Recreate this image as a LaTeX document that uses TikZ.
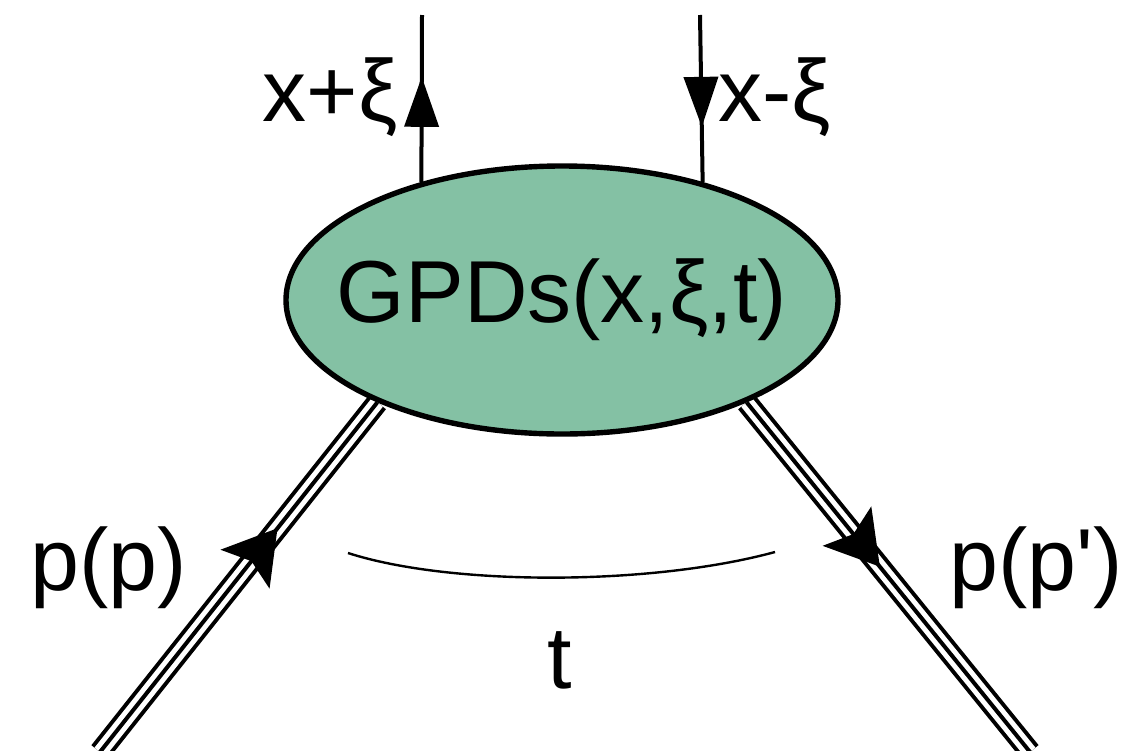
\documentclass[tikz,border=0pt]{standalone}
\usepackage{fontspec}
\setmainfont{Liberation Sans}
\usetikzlibrary{shapes.geometric, arrows.meta, decorations.markings, backgrounds}
\definecolor{gpdgreen}{RGB}{132,193,164}

\begin{document}
\begin{tikzpicture}[
    x=0.5pt, y=-0.5pt,
    font=\fontsize{44}{52}\selectfont,
    blob/.style={ellipse, draw, line width=2.7pt, fill=gpdgreen,
      minimum width=276pt, minimum height=134pt, inner sep=0pt},
    quark/.style={line width=2pt},
    proton/.style={line width=2pt,
      preaction={draw, line width=11pt},
      preaction={draw, white, line width=7pt}},
    qarr/.style={postaction={decorate, decoration={markings,
      mark=at position #1 with {\arrow{Triangle[length=25pt, width=17pt]}}}}},
    parr/.style={postaction={decorate, decoration={markings,
      mark=at position #1 with {\arrow{Stealth[length=26pt, width=31pt, inset=5pt]}}}}}]
    \useasboundingbox (0,0) rectangle (1123,750);
    \node[blob] (gpd) at (562,300) {};
    \node (lgpd) at (gpd.center) {GPDs(x,ξ,t)};
    % free ends of the lines
    \coordinate (qin)  at (422,15);
    \coordinate (qout) at (700,15);
    \coordinate (pin)  at (100,752);
    \coordinate (pout) at (1030,752);
    \begin{scope}[on background layer]
      \draw[quark, qarr=0.63] (gpd.140) -- (qin);
      \draw[quark, qarr=0.67] (qout) -- (gpd.40);
      \draw[proton, parr=0.64] (pin) -- (gpd.209);
      \draw[proton, parr=0.47] (gpd.331) -- (pout);
    \end{scope}
    \node (lqin)  at (330,97) {x+ξ};
    \node (lqout) at (775,97) {x-ξ};
    \node (lpin)  at (109,568) {p(p)};
    \node (lpout) at (1036,568) {p(p\textquotesingle)};
    % momentum transfer
    \coordinate (tl) at (348,553);
    \coordinate (tr) at (775,552);
    \draw[line width=1.2pt] (tl) .. controls (450,586) and (650,586) .. (tr);
    \node (lt) at (560,660) {t};
\end{tikzpicture}
\end{document}
